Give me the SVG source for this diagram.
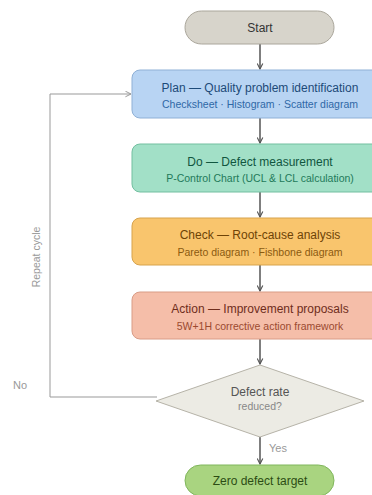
<svg xmlns="http://www.w3.org/2000/svg" width="372" height="495" viewBox="0 0 372 495">
  <style>
    text { font-family: "Liberation Sans", Arial, sans-serif; text-anchor: middle; }
    .title { font-size: 12px; }
    .sub { font-size: 10.5px; }
    .flow { fill: none; stroke: #555; stroke-width: 1.5; }
    .loop { fill: none; stroke: #999; stroke-width: 1; }
    .lbl { font-size: 10.5px; fill: #999; }
  </style>
  <defs>
    <marker id="arrow" viewBox="0 0 10 10" refX="9" refY="5" markerWidth="7" markerHeight="7" markerUnits="userSpaceOnUse" orient="auto">
      <path d="M1,1 L9,5 L1,9" fill="none" stroke="#555" stroke-width="1.6"/>
    </marker>
    <marker id="arrow-light" viewBox="0 0 10 10" refX="9" refY="5" markerWidth="7" markerHeight="7" markerUnits="userSpaceOnUse" orient="auto">
      <path d="M1,1 L9,5 L1,9" fill="none" stroke="#999" stroke-width="1.4"/>
    </marker>
  </defs>

  <!-- connectors -->
  <g id="connectors">
    <line class="flow" x1="260" y1="44" x2="260" y2="69" marker-end="url(#arrow)"/>
    <line class="flow" x1="260" y1="118" x2="260" y2="143" marker-end="url(#arrow)"/>
    <line class="flow" x1="260" y1="192" x2="260" y2="217" marker-end="url(#arrow)"/>
    <line class="flow" x1="260" y1="265" x2="260" y2="291" marker-end="url(#arrow)"/>
    <line class="flow" x1="260" y1="339" x2="260" y2="364" marker-end="url(#arrow)"/>
    <line class="flow" x1="260" y1="437" x2="260" y2="464" marker-end="url(#arrow)"/>
    <polyline class="loop" points="157,397 50,397 50,94 131,94" marker-end="url(#arrow-light)"/>
    <text class="lbl" transform="translate(40,257) rotate(-90)">Repeat cycle</text>
    <text class="lbl" x="20" y="389" style="font-size:11px">No</text>
    <text class="lbl" x="278" y="452" style="font-size:11px">Yes</text>
  </g>

  <g id="start">
    <rect x="185" y="11" width="149" height="33" rx="16.5" fill="#d7d4cb" stroke="#aaa69b"/>
    <text class="title" x="260" y="32" fill="#333">Start</text>
  </g>

  <g id="plan">
    <rect x="132" y="70" width="256" height="48" rx="8" fill="#b8d4f3" stroke="#8fb0d6"/>
    <text class="title" x="260" y="92" fill="#1d4a78">Plan — Quality problem identification</text>
    <text class="sub" x="260" y="108" fill="#2f68a6">Checksheet · Histogram · Scatter diagram</text>
  </g>

  <g id="do">
    <rect x="132" y="144" width="256" height="48" rx="8" fill="#a2e0c7" stroke="#72bfa0"/>
    <text class="title" x="260" y="166" fill="#11563f">Do — Defect measurement</text>
    <text class="sub" x="260" y="182" fill="#1f7a5a">P-Control Chart (UCL &amp; LCL calculation)</text>
  </g>

  <g id="check">
    <rect x="132" y="218" width="256" height="47" rx="8" fill="#f9c56d" stroke="#d7a34c"/>
    <text class="title" x="260" y="239" fill="#6e4306">Check — Root-cause analysis</text>
    <text class="sub" x="260" y="256" fill="#8b5a10">Pareto diagram · Fishbone diagram</text>
  </g>

  <g id="action">
    <rect x="132" y="292" width="256" height="47" rx="8" fill="#f5bea9" stroke="#d99c86"/>
    <text class="title" x="260" y="313" fill="#6f2d1c">Action — Improvement proposals</text>
    <text class="sub" x="260" y="330" fill="#9b4a30">5W+1H corrective action framework</text>
  </g>

  <g id="decision">
    <polygon points="260,365 364,401 260,437 156,401" fill="#ecebe4" stroke="#b6b3a8"/>
    <text class="title" x="260" y="396" fill="#555">Defect rate</text>
    <text class="sub" x="260" y="410" fill="#888">reduced?</text>
  </g>

  <g id="zero-defect">
    <rect x="185" y="465" width="149" height="31" rx="15.5" fill="#a9d480" stroke="#80b65c"/>
    <text class="title" x="260" y="485" fill="#2c4c14">Zero defect target</text>
  </g>
</svg>
